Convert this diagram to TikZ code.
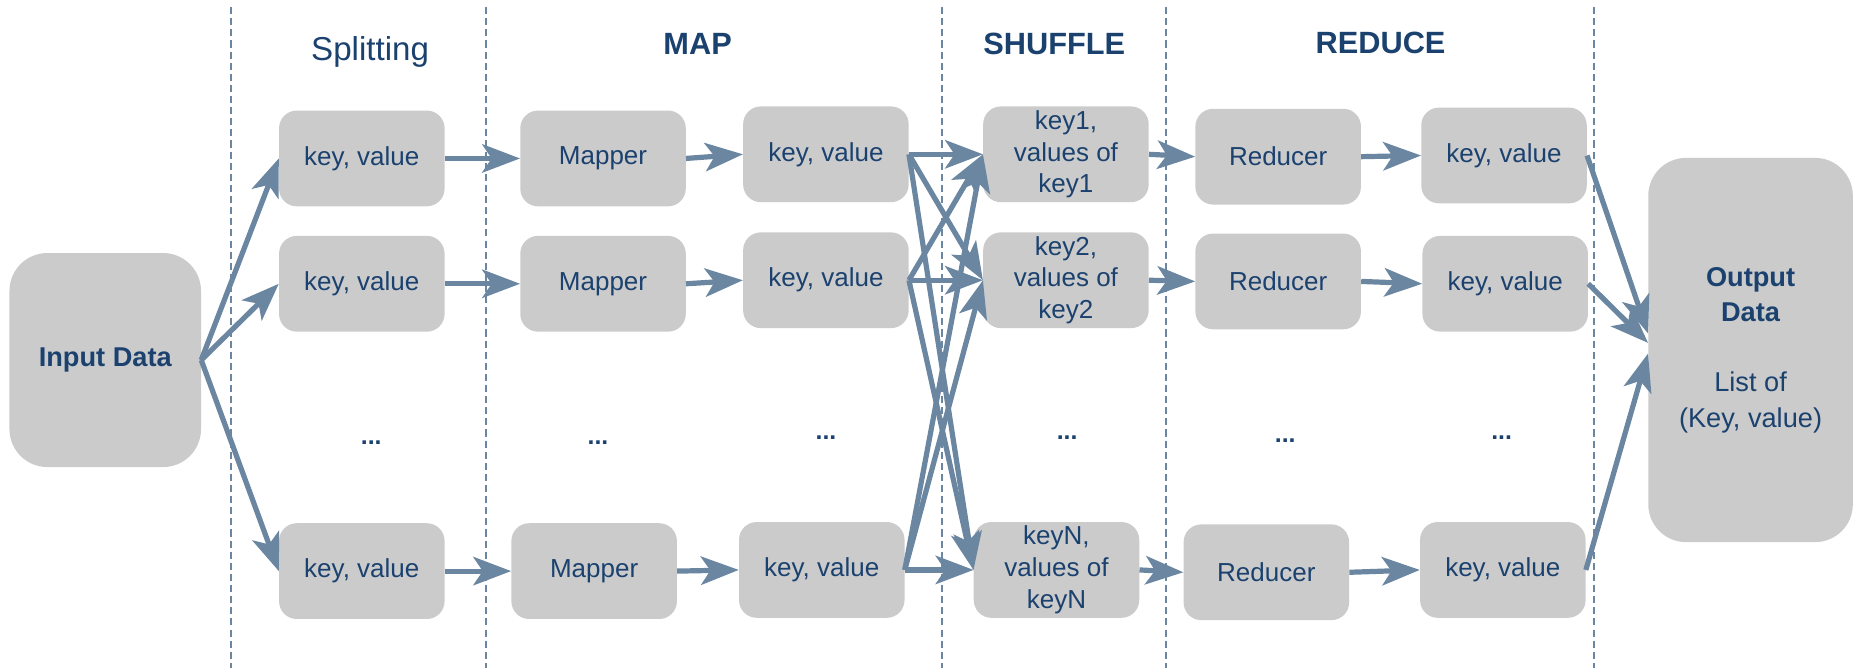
\documentclass[tikz,border=0pt]{standalone}
\usepackage{fontspec}
\setmainfont{Liberation Sans}
\usetikzlibrary{arrows.meta}
\definecolor{txt}{HTML}{1B416F}
\definecolor{boxc}{HTML}{CBCBCB}
\definecolor{arr}{HTML}{6A86A1}
\definecolor{dsh}{HTML}{6A86A1}
\begin{document}
\begin{tikzpicture}[x=1pt,y=-1pt,
  box/.style={fill=boxc, rounded corners=15pt, minimum width=140pt, minimum height=81pt, inner sep=0pt, text=txt, font=\fontsize{22}{27}\selectfont, align=center},
  bigbox/.style={fill=boxc, rounded corners=32pt, inner sep=0pt, text=txt, align=center},
  conn/.style={draw=arr, line width=4.4pt, -{Stealth[length=32pt,width=24pt,inset=8pt]}},
  sep/.style={draw=dsh, line width=1.6pt, dash pattern=on 6pt off 3.4pt},
  title/.style={text=txt, anchor=base, inner sep=0pt},
  dots/.style={text=txt, anchor=base, inner sep=0pt, font=\bfseries\fontsize{21}{21}\selectfont}
]
\useasboundingbox (0,0) rectangle (1568,565);

% separators
\draw[sep] (195.6,6) -- (195.6,565);
\draw[sep] (410.8,6) -- (410.8,565);
\draw[sep] (796.7,6) -- (796.7,565);
\draw[sep] (985.8,6) -- (985.8,565);
\draw[sep] (1348,6) -- (1348,565);

% titles
\node[title, font=\fontsize{28}{28}\selectfont] (tsplit) at (313,51) {Splitting};
\node[title, font=\bfseries\fontsize{26}{26}\selectfont] (tmap) at (590,46.5) {MAP};
\node[title, font=\bfseries\fontsize{26}{26}\selectfont] (tshuffle) at (891.6,46.5) {SHUFFLE};
\node[title, font=\bfseries\fontsize{26}{26}\selectfont] (treduce) at (1167.6,45) {REDUCE};

% input / output
\node[bigbox, minimum width=162pt, minimum height=181pt, font=\bfseries\fontsize{23}{28}\selectfont] (in) at (89,304.5) {Input Data};
\node[bigbox, minimum width=173pt, minimum height=325pt, font=\fontsize{23}{30}\selectfont] (out) at (1480.5,296) {\textbf{Output}\\\textbf{Data}\\[29pt]List of\\(Key, value)};

% splitting column
\node[box] (kv1) at (306,134) {key, value};
\node[box] (kv2) at (306,240) {key, value};
\node[box] (kvN) at (306,483) {key, value};
% mappers
\node[box] (m1) at (510,134) {Mapper};
\node[box] (m2) at (510,240) {Mapper};
\node[box] (mN) at (502.5,483) {Mapper};
% map outputs
\node[box] (mkv1) at (698.5,130.5) {key, value};
\node[box] (mkv2) at (698.5,237) {key, value};
\node[box] (mkvN) at (695,482) {key, value};
% shuffle
\node[box] (sh1) at (901.5,130.5) {key1,\\values of\\key1};
\node[box] (sh2) at (901.5,237) {key2,\\values of\\key2};
\node[box] (shN) at (893.5,482) {keyN,\\values of\\keyN};
% reducers
\node[box] (r1) at (1081,132.5) {Reducer};
\node[box] (r2) at (1081,238) {Reducer};
\node[box] (rN) at (1071,484) {Reducer};
% reduce outputs
\node[box] (rkv1) at (1272,131.5) {key, value};
\node[box] (rkv2) at (1273,240) {key, value};
\node[box] (rkvN) at (1271,482) {key, value};

% dots
\node[dots] (d1) at (314,376) {...};
\node[dots] (d2) at (505.7,376) {...};
\node[dots] (d3) at (698.6,372) {...};
\node[dots] (d4) at (902.5,372) {...};
\node[dots] (d5) at (1087,374) {...};
\node[dots] (d6) at (1270,372) {...};

% connectors
\draw[conn] (in.east) -- (kv1.west);
\draw[conn] (in.east) -- (kv2.west);
\draw[conn] (in.east) -- (kvN.west);

\draw[conn] (kv1.east) -- (m1.west);
\draw[conn] (kv2.east) -- (m2.west);
\draw[conn] (kvN.east) -- (mN.west);

\draw[conn] (m1.east) -- (mkv1.west);
\draw[conn] (m2.east) -- (mkv2.west);
\draw[conn] (mN.east) -- (mkvN.west);

\foreach \s in {mkv1,mkv2,mkvN}{
  \foreach \t in {sh1,sh2,shN}{
    \draw[conn] (\s.east) -- (\t.west);
  }
}

\draw[conn] (sh1.east) -- (r1.west);
\draw[conn] (sh2.east) -- (r2.west);
\draw[conn] (shN.east) -- (rN.west);

\draw[conn] (r1.east) -- (rkv1.west);
\draw[conn] (r2.east) -- (rkv2.west);
\draw[conn] (rN.east) -- (rkvN.west);

\draw[conn] (rkv1.east) -- ([yshift=14pt]out.west);
\draw[conn] (rkv2.east) -- ([yshift=6pt]out.west);
\draw[conn] (rkvN.east) -- ([yshift=-3pt]out.west);
\end{tikzpicture}
\end{document}
